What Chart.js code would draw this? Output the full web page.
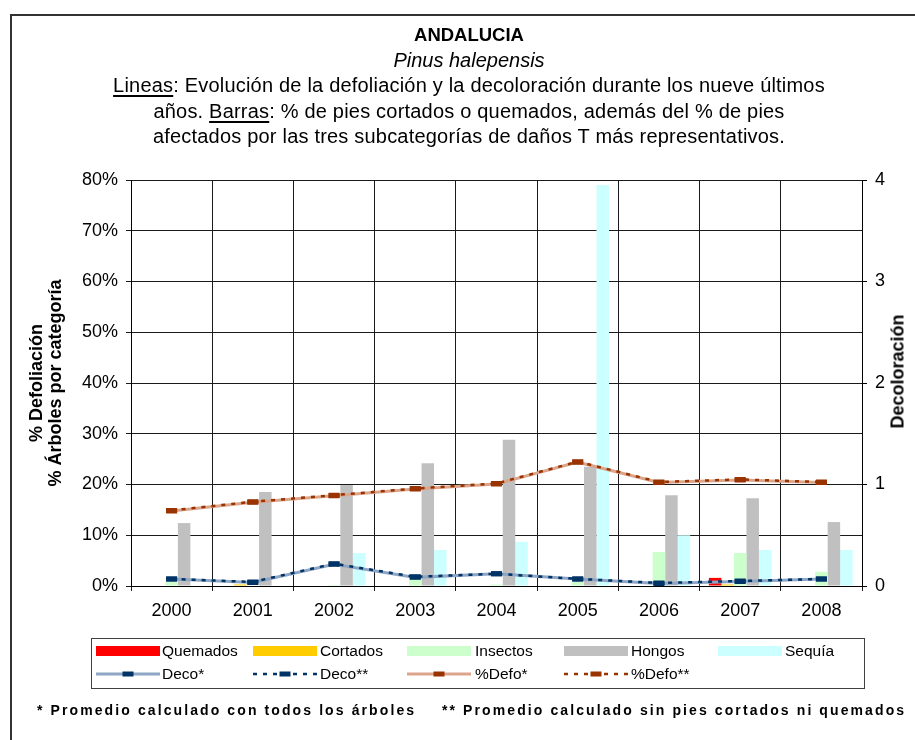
<!DOCTYPE html>
<html>
<head>
<meta charset="utf-8">
<script src="https://cdn.jsdelivr.net/npm/chart.js@4/dist/chart.umd.min.js"></script>
<style>
html,body{margin:0;padding:0;background:#fff;}
#wrap{position:relative;width:915px;height:740px;overflow:hidden;background:#fff;font-family:"Liberation Sans",Arial,sans-serif;color:#000;}
#frame{position:absolute;left:10px;top:14px;width:1000px;height:800px;border:2px solid #333;box-sizing:border-box;}
#c{position:absolute;left:0;top:0;}
.t{position:absolute;left:11px;width:916px;text-align:center;white-space:nowrap;line-height:24px;height:24px;}
.u{text-decoration:underline;text-underline-offset:3px;}
.axt{position:absolute;font-weight:bold;font-size:18px;line-height:19px;text-align:center;white-space:nowrap;transform:rotate(-90deg);transform-origin:50% 50%;}
#legend{position:absolute;left:91px;top:638px;width:774px;height:51px;border:1px solid #404040;box-sizing:border-box;}
.lg{position:absolute;font-size:15.5px;line-height:18px;white-space:nowrap;}
.sw{position:absolute;height:10px;width:64px;}
.fn{position:absolute;top:700px;font-weight:bold;font-size:14px;letter-spacing:2.1px;white-space:nowrap;line-height:20px;}
</style>
</head>
<body>
<div id="wrap">
  <div id="frame"></div>
  <canvas id="c" width="915" height="740"></canvas>
  <div class="t" style="top:23px;font-weight:bold;font-size:18.5px;">ANDALUCIA</div>
  <div class="t" style="top:48px;font-style:italic;font-size:20px;">Pinus halepensis</div>
  <div class="t" style="top:73px;font-size:20px;letter-spacing:0.2px;"><span class="u">Lineas</span>: Evolución de la defoliación y la decoloración durante los nueve últimos</div>
  <div class="t" style="top:99px;font-size:20px;letter-spacing:0.2px;">años. <span class="u">Barras</span>: % de pies cortados o quemados, además del % de pies</div>
  <div class="t" style="top:124px;font-size:20px;letter-spacing:0.2px;">afectados por las tres subcategorías de daños T más representativos.</div>
  <div class="axt" style="left:-154px;top:364px;width:400px;height:38px;">% Defoliación<br>% Árboles por categoría</div>
  <div class="axt" style="left:698px;top:362px;width:400px;height:19px;">Decoloración</div>
  <div id="legend"></div>
  <div class="fn" style="left:37px;">* Promedio calculado con todos los árboles</div>
  <div class="fn" style="left:442px;">** Promedio calculado sin pies cortados ni quemados</div>
</div>
<script>
// ---- data ----
const years = ['2000','2001','2002','2003','2004','2005','2006','2007','2008'];
const quemados = [0, 0, 0, 0, 0, 0, 0, 1.6, 0];
const cortados = [0, 0.3, 0, 0, 0, 0, 0, 0.3, 0];
const insectos = [0.8, 0, 0.2, 1.4, 0.3, 0.8, 6.7, 6.5, 2.8];
const hongos   = [12.4, 18.5, 19.9, 24.2, 28.8, 23.5, 17.9, 17.3, 12.6];
const sequia   = [0, 0, 6.5, 7.1, 8.7, 79.0, 10.0, 7.1, 7.1];
const deco1 = [0.07, 0.035, 0.215, 0.085, 0.12, 0.07, 0.025, 0.045, 0.07];
const deco2 = [0.07, 0.04, 0.22, 0.09, 0.12, 0.07, 0.03, 0.05, 0.07];
const defo1 = [14.8, 16.5, 17.8, 19.1, 20.1, 24.4, 20.4, 20.9, 20.4];
const defo2 = [14.9, 16.6, 17.9, 19.2, 20.2, 24.5, 20.5, 21.0, 20.5];
const leftTicks = [0, 10, 20, 30, 40, 50, 60, 70, 80];
const rightTicks = [0, 1, 2, 3, 4];

const FONT = '"Liberation Sans", Arial, sans-serif';
const C = {
  quemados:'#ff0000', cortados:'#ffcc00', insectos:'#ccffcc', hongos:'#c0c0c0', sequia:'#ccffff',
  decoLine:'#8ea6c4', navy:'#003366', defoLine:'#dba58c', brown:'#993300'
};

function barDs(label, data, color){
  return {type:'bar', label, data, backgroundColor:color, borderWidth:0, yAxisID:'y', order:10,
          barPercentage:1, categoryPercentage:0.77};
}
function lineDs(label, data, axis, color, markerColor, dashed, order){
  return {type:'line', label, data, yAxisID:axis, borderColor:color, borderWidth:dashed?2.5:3,
          borderDash:dashed?[4,6]:[], tension:0, fill:false, order,
          pointStyle:'line', pointRadius:5.5, pointBorderWidth:5, pointBorderColor:markerColor,
          pointBackgroundColor:markerColor, pointHoverRadius:5.5};
}

new Chart(document.getElementById('c'), {
  type:'bar',
  data:{
    labels: years,
    datasets:[
      barDs('Quemados', quemados, C.quemados),
      barDs('Cortados', cortados, C.cortados),
      barDs('Insectos', insectos, C.insectos),
      barDs('Hongos', hongos, C.hongos),
      barDs('Sequía', sequia, C.sequia),
      lineDs('Deco*', deco1, 'y1', C.decoLine, C.navy, false, 4),
      lineDs('Deco**', deco2, 'y1', C.navy, C.navy, true, 3),
      lineDs('%Defo*', defo1, 'y', C.defoLine, C.brown, false, 2),
      lineDs('%Defo**', defo2, 'y', C.brown, C.brown, true, 1)
    ]
  },
  options:{
    responsive:false, animation:false,
    layout:{padding:{top:180,left:0,right:0,bottom:0}},
    plugins:{legend:{display:false}, title:{display:false}, tooltip:{enabled:false}},
    scales:{
      x:{
        grid:{offset:true, color:'#1a1a1a', lineWidth:1, tickLength:5},
        border:{color:'#000', width:1},
        ticks:{font:{family:FONT,size:18}, color:'#000', padding:9, maxRotation:0, autoSkip:false},
        afterFit(s){ s.height = 154; }
      },
      y:{
        position:'left', min:leftTicks[0], max:leftTicks[leftTicks.length-1],
        afterBuildTicks(s){ s.ticks = leftTicks.map(v=>({value:v})); },
        ticks:{font:{family:FONT,size:18}, color:'#000', padding:8, callback:v=>v+'%'},
        grid:{color:'#1a1a1a', lineWidth:1, tickLength:5},
        border:{color:'#000', width:1},
        afterFit(s){ s.width = 131; }
      },
      y1:{
        position:'right', min:rightTicks[0], max:rightTicks[rightTicks.length-1],
        afterBuildTicks(s){ s.ticks = rightTicks.map(v=>({value:v})); },
        ticks:{font:{family:FONT,size:18}, color:'#000', padding:8},
        grid:{drawOnChartArea:false, color:'#000', tickLength:5},
        border:{color:'#000', width:1},
        afterFit(s){ s.width = 53; }
      }
    }
  }
});

// ---- legend (HTML) ----
const legend = document.getElementById('legend');
const colSw = [96,253,407,564,718].map(v=>v-92);
const colTx = [162,320,475,631,785].map(v=>v-92);
const barItems = [['Quemados',C.quemados],['Cortados',C.cortados],['Insectos',C.insectos],['Hongos',C.hongos],['Sequía',C.sequia]];
const lineItems = [['Deco*',C.decoLine,C.navy,false],['Deco**',C.navy,C.navy,true],['%Defo*',C.defoLine,C.brown,false],['%Defo**',C.brown,C.brown,true]];
const row1 = 651-639, row2 = 674-639;
barItems.forEach((it,i)=>{
  const sw = document.createElement('div'); sw.className='sw';
  sw.style.left = colSw[i]+'px'; sw.style.top = (row1-5)+'px'; sw.style.background = it[1];
  legend.appendChild(sw);
  const tx = document.createElement('div'); tx.className='lg'; tx.textContent = it[0];
  tx.style.left = colTx[i]+'px'; tx.style.top = (row1-9)+'px';
  legend.appendChild(tx);
});
lineItems.forEach((it,i)=>{
  const ns='http://www.w3.org/2000/svg';
  const svg = document.createElementNS(ns,'svg');
  svg.setAttribute('width','64'); svg.setAttribute('height','12');
  svg.style.position='absolute'; svg.style.left=colSw[i]+'px'; svg.style.top=(row2-6)+'px';
  const ln = document.createElementNS(ns,'line');
  ln.setAttribute('x1','0'); ln.setAttribute('x2','64'); ln.setAttribute('y1','6'); ln.setAttribute('y2','6');
  ln.setAttribute('stroke',it[1]); ln.setAttribute('stroke-width', it[3]?'2.5':'3');
  if(it[3]) ln.setAttribute('stroke-dasharray','4 6');
  svg.appendChild(ln);
  const r = document.createElementNS(ns,'rect');
  r.setAttribute('x','26.5'); r.setAttribute('y','3.5'); r.setAttribute('width','11'); r.setAttribute('height','5');
  r.setAttribute('fill',it[2]);
  svg.appendChild(r);
  legend.appendChild(svg);
  const tx = document.createElement('div'); tx.className='lg'; tx.textContent = it[0];
  tx.style.left = colTx[i]+'px'; tx.style.top = (row2-9)+'px';
  legend.appendChild(tx);
});
</script>
</body>
</html>
